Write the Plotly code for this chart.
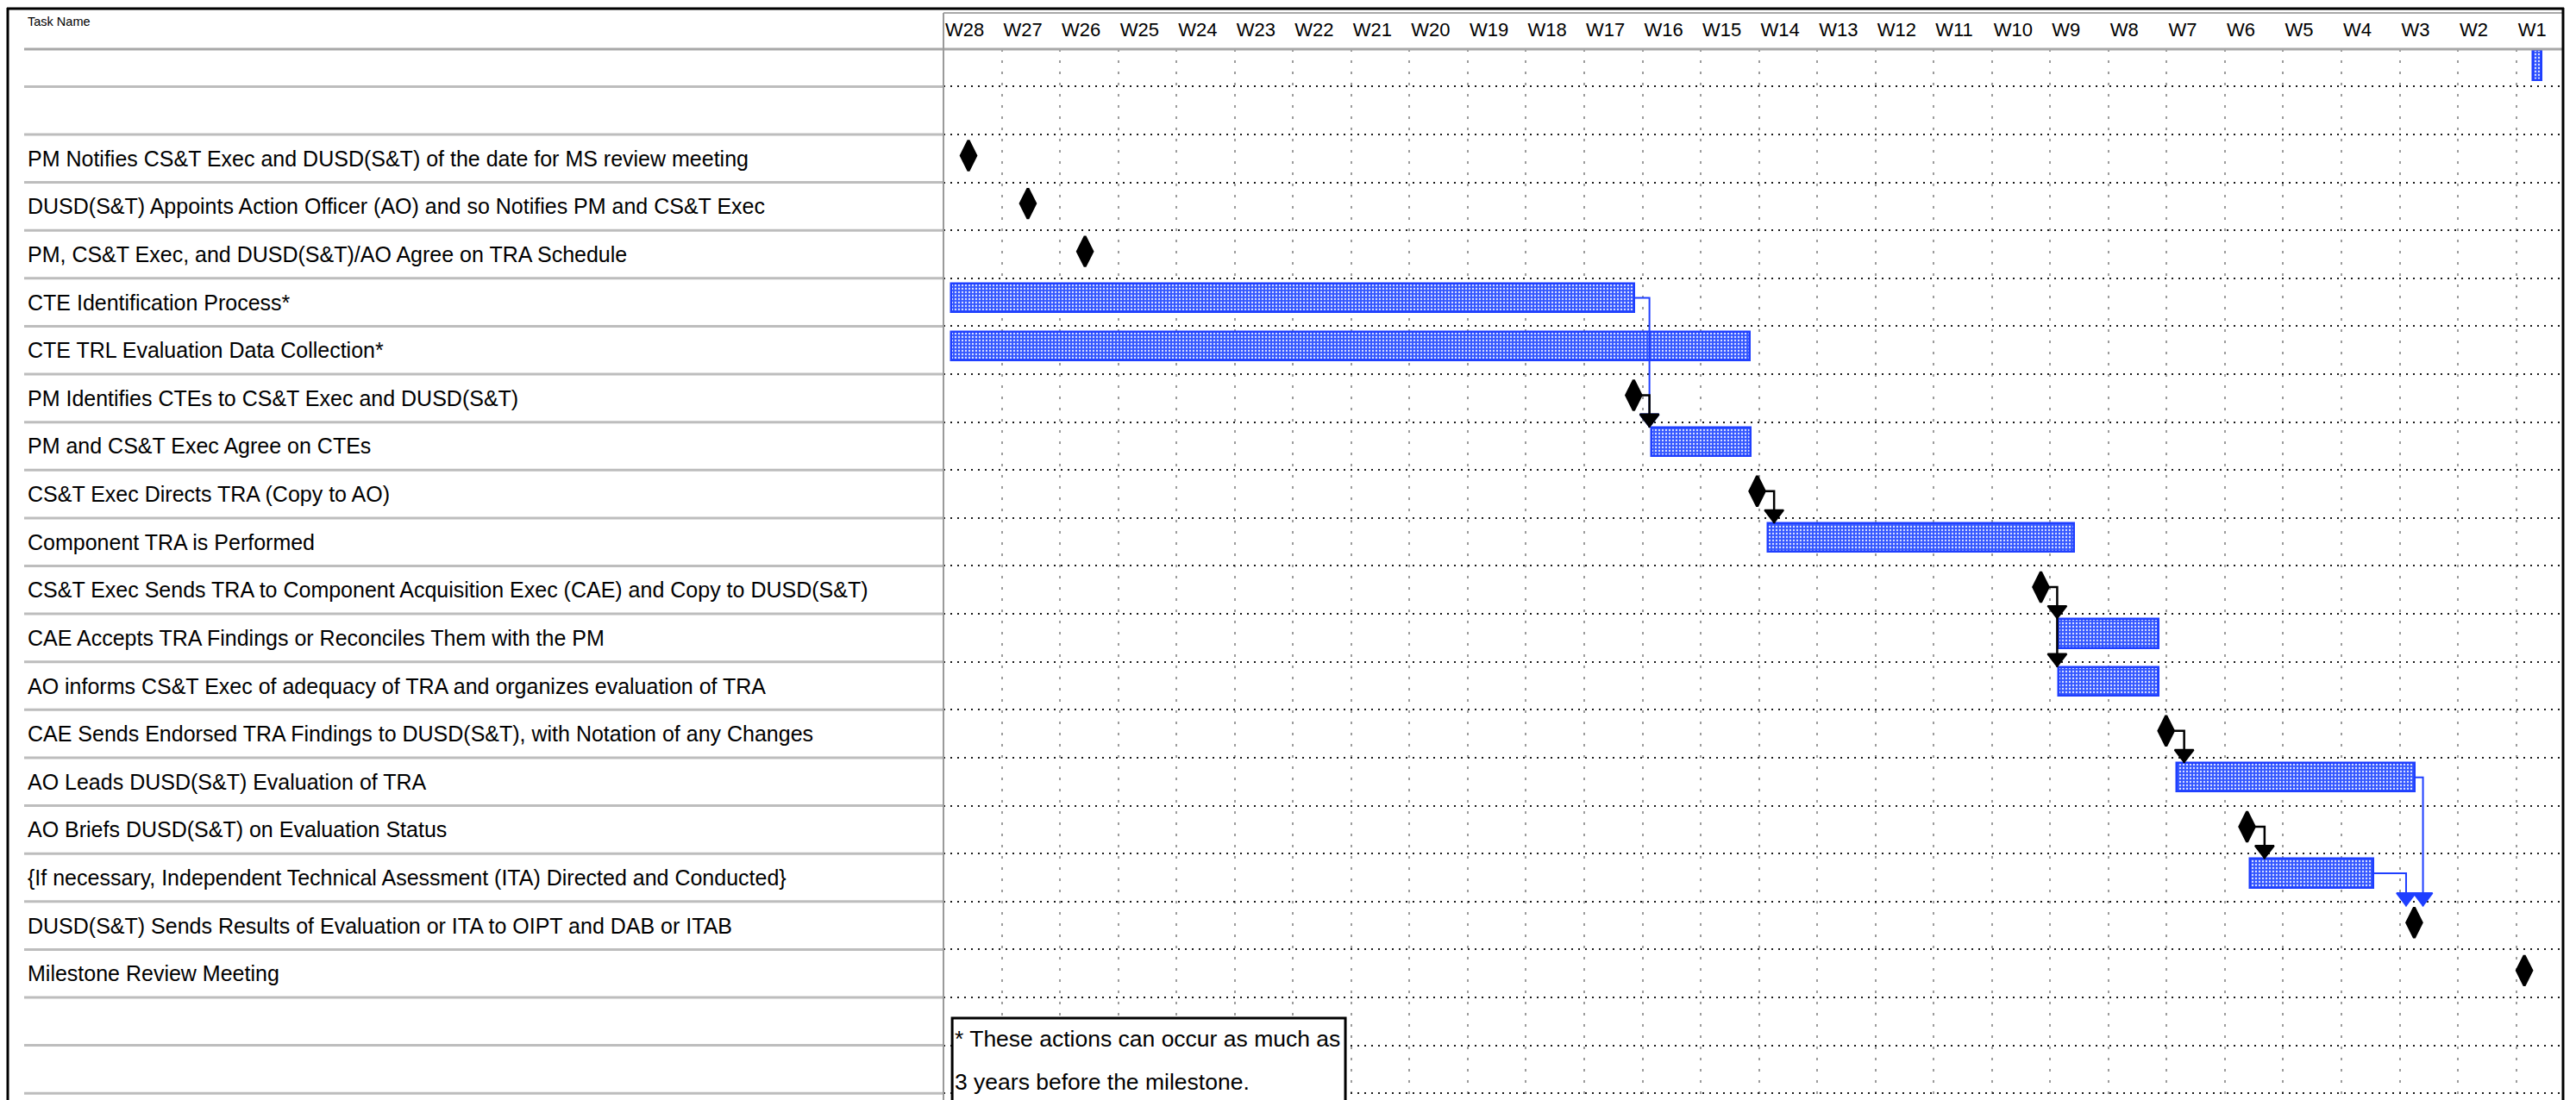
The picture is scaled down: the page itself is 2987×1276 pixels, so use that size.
import subprocess
import plotly.graph_objects as go

# ---------------- data ----------------
week_labels = ["W28", "W27", "W26", "W25", "W24", "W23", "W22", "W21", "W20", "W19",
               "W18", "W17", "W16", "W15", "W14", "W13", "W12", "W11", "W10", "W9",
               "W8", "W7", "W6", "W5", "W4", "W3", "W2", "W1"]
week_pos = list(range(len(week_labels)))          # column start of each week

task_names = [
    "",
    "",
    "PM Notifies CS&T Exec and DUSD(S&T) of the date for MS review meeting",
    "DUSD(S&T) Appoints Action Officer (AO) and so Notifies PM and CS&T Exec",
    "PM, CS&T Exec, and DUSD(S&T)/AO Agree on TRA Schedule",
    "CTE Identification Process*",
    "CTE TRL Evaluation Data Collection*",
    "PM Identifies CTEs to CS&T Exec and DUSD(S&T)",
    "PM and CS&T Exec Agree on CTEs",
    "CS&T Exec Directs TRA (Copy to AO)",
    "Component TRA is Performed",
    "CS&T Exec Sends TRA to Component Acquisition Exec (CAE) and Copy to DUSD(S&T)",
    "CAE Accepts TRA Findings or Reconciles Them with the PM",
    "AO informs CS&T Exec of adequacy of TRA and organizes evaluation of TRA",
    "CAE Sends Endorsed TRA Findings to DUSD(S&T), with Notation of any Changes",
    "AO Leads DUSD(S&T) Evaluation of TRA",
    "AO Briefs DUSD(S&T) on Evaluation Status",
    "{If necessary, Independent Technical Asessment (ITA) Directed and Conducted}",
    "DUSD(S&T) Sends Results of Evaluation or ITA to OIPT and DAB or ITAB",
    "Milestone Review Meeting",
    "",
    "",
]

# task bars (row index, start week, finish week)
bar_rows = [5, 6, 8, 10, 12, 13, 15, 17]
bar_start = [0.14, 0.14, 12.15, 14.16, 19.15, 19.15, 21.17, 22.43]
bar_finish = [11.86, 13.85, 13.86, 19.41, 20.86, 20.86, 25.26, 24.55]

# small bar in the first (unnamed) row
top_bar_rows = [0]
top_bar_start = [27.29]
top_bar_finish = [27.43]

# milestones
ms_rows = [2, 3, 4, 7, 9, 11, 14, 16, 18, 19]
ms_x = [0.43, 1.45, 2.43, 11.85, 13.97, 18.84, 20.99, 22.38, 25.25, 27.14]

# dependency links (source row -> target rows, with the week where the link turns down)
link_from = [5, 7, 9, 11, 14, 15, 16, 17]
link_to = [[8], [8], [10], [12, 13], [15], [18], [17], [18]]
link_turn = [12.12, 12.12, 14.26, 19.12, 21.30, 25.40, 22.68, 25.11]

note_lines = ["* These actions can occur as much as", "3 years before the milestone."]

# ---------------- layout geometry ----------------
W, H = 2987, 1276
PLOT_L, PLOT_R, PLOT_T = 1094, 2971, 57
Y_TOP, Y_BOT = -0.28, 21.64
X_MAX = 27.79
PPU_Y = (H - PLOT_T) / (Y_BOT - Y_TOP)


def pxx(px):
    return (px - PLOT_L) / (PLOT_R - PLOT_L)


def pxy(py):
    return 1 - (py - PLOT_T) / (H - PLOT_T)


def has_font(name):
    try:
        out = subprocess.run(["fc-list", ":", "family"], capture_output=True,
                             text=True, timeout=20).stdout
        return name in out
    except Exception:
        return False


if has_font("Liberation Sans Narrow"):
    FONT = "Liberation Sans Narrow"
    FS_TASK, FS_WEEK, FS_HEAD, FS_NOTE = 30.5, 27, 18, 32
else:
    FONT = "Liberation Sans"
    FS_TASK, FS_WEEK, FS_HEAD, FS_NOTE = 25, 22, 14.5, 26.5

BLUE = "#1f3fff"
BAR_W, BAR_OFF = 0.60, -0.39
BAR_MID = BAR_OFF + BAR_W / 2
MS_MID = -0.06
MS_HALF = 19 / PPU_Y
ARROW_UP = 10.5 / PPU_Y

bar_marker = dict(
    color="#3a5cff",
    line=dict(color=BLUE, width=2.5),
    pattern=dict(shape=".", fgcolor="#dfe5ff", bgcolor="#3558ff", size=4,
                 solidity=0.25, fillmode="replace"),
)

fig = go.Figure()

fig.add_trace(go.Bar(
    y=bar_rows, base=bar_start,
    x=[f - s for s, f in zip(bar_start, bar_finish)],
    orientation="h", width=BAR_W, offset=BAR_OFF,
    marker=bar_marker, hoverinfo="skip", showlegend=False,
))
fig.add_trace(go.Bar(
    y=top_bar_rows, base=top_bar_start,
    x=[f - s for s, f in zip(top_bar_start, top_bar_finish)],
    orientation="h", width=0.63, offset=-0.27,
    marker=bar_marker, hoverinfo="skip", showlegend=False,
))

# links
end_of = {}
for r, f in zip(bar_rows, bar_finish):
    end_of[r] = (f, r + BAR_MID, "task")
for r, x in zip(ms_rows, ms_x):
    end_of[r] = (x, r + MS_MID, "ms")


def target_top(r):
    if r in bar_rows:
        return r + BAR_OFF
    return r + MS_MID - MS_HALF


paths = {"task": ([], []), "ms": ([], [])}
heads = {"task": ([], []), "ms": ([], [])}
for src, tgts, turn in zip(link_from, link_to, link_turn):
    x0, y0, kind = end_of[src]
    last = max(tgts)
    px, py = paths[kind]
    px += [x0, turn, turn, None]
    py += [y0, y0, target_top(last), None]
    hx, hy = heads[kind]
    for t in tgts:
        hx.append(turn)
        hy.append(target_top(t) - ARROW_UP)

fig.add_trace(go.Scatter(x=paths["task"][0], y=paths["task"][1], mode="lines",
                         line=dict(color=BLUE, width=2), hoverinfo="skip", showlegend=False))
fig.add_trace(go.Scatter(x=heads["task"][0], y=heads["task"][1], mode="markers",
                         marker=dict(symbol="triangle-down", size=19, color=BLUE,
                                     line=dict(color=BLUE, width=2)),
                         hoverinfo="skip", showlegend=False))
fig.add_trace(go.Scatter(x=paths["ms"][0], y=paths["ms"][1], mode="lines",
                         line=dict(color="#000000", width=2.5), hoverinfo="skip", showlegend=False))
fig.add_trace(go.Scatter(x=ms_x, y=[r + MS_MID for r in ms_rows], mode="markers",
                         marker=dict(symbol="diamond-tall", size=25, color="#000000",
                                     line=dict(color="#000000", width=3)),
                         hoverinfo="skip", showlegend=False))
fig.add_trace(go.Scatter(x=heads["ms"][0], y=heads["ms"][1], mode="markers",
                         marker=dict(symbol="triangle-down", size=19, color="#000000",
                                     line=dict(color="#000000", width=2)),
                         hoverinfo="skip", showlegend=False))

# ---------------- table / frame ----------------
shapes = []
grey_row = "#bdbdbd"
for r in range(len(task_names)):
    shapes.append(dict(type="line", xref="paper", yref="y", x0=pxx(28), x1=0,
                       y0=r + 0.5, y1=r + 0.5, line=dict(color=grey_row, width=3)))
shapes += [
    dict(type="line", xref="paper", yref="paper", x0=pxx(28), x1=1, y0=1, y1=1,
         line=dict(color="#a8a8a8", width=3)),
    dict(type="line", xref="paper", yref="paper", x0=0, x1=1, y0=pxy(15), y1=pxy(15),
         line=dict(color="#a8a8a8", width=2)),
    dict(type="line", xref="paper", yref="paper", x0=0, x1=0, y0=pxy(15), y1=0,
         line=dict(color="#9a9a9a", width=2)),
    dict(type="line", xref="paper", yref="paper", x0=pxx(8), x1=pxx(2973), y0=pxy(10), y1=pxy(10),
         line=dict(color="#000000", width=3)),
    dict(type="line", xref="paper", yref="paper", x0=pxx(9), x1=pxx(9), y0=pxy(9), y1=0,
         line=dict(color="#000000", width=3)),
    dict(type="line", xref="paper", yref="paper", x0=pxx(2972), x1=pxx(2972), y0=pxy(9), y1=0,
         line=dict(color="#000000", width=3)),
    dict(type="rect", xref="x", yref="y", x0=0.15, x1=6.9, y0=19.93, y1=22.6,
         fillcolor="#ffffff", line=dict(color="#000000", width=3), layer="above"),
]

annotations = []
for r, name in enumerate(task_names):
    if name:
        annotations.append(dict(xref="paper", yref="y", x=pxx(30), y=r, text=name,
                                showarrow=False, xanchor="left", yanchor="middle",
                                font=dict(family=FONT, size=FS_TASK, color="#000000")))
annotations.append(dict(xref="paper", yref="paper", x=pxx(30), y=pxy(25), text="Task Name",
                        showarrow=False, xanchor="left", yanchor="middle",
                        font=dict(family=FONT, size=FS_HEAD, color="#000000")))
for i, line in enumerate(note_lines):
    annotations.append(dict(xref="x", yref="y", x=0.17, y=20.36 + 0.9 * i, text=line,
                            showarrow=False, xanchor="left", yanchor="middle",
                            font=dict(family=FONT, size=FS_NOTE, color="#000000")))

fig.update_layout(
    width=W, height=H,
    margin=dict(l=PLOT_L, r=W - PLOT_R, t=PLOT_T, b=0, pad=0, autoexpand=False),
    paper_bgcolor="#ffffff", plot_bgcolor="#ffffff",
    barmode="overlay", bargap=0,
    shapes=shapes, annotations=annotations,
    xaxis=dict(
        range=[0, X_MAX], side="top", tickmode="array", tickvals=week_pos, ticktext=week_labels,
        ticklabelposition="outside right", ticks="", ticklabelstandoff=10, ticklabelshift=2,
        tickfont=dict(family=FONT, size=FS_WEEK, color="#000000"),
        showgrid=True, gridcolor="#9c9c9c", gridwidth=1.5, griddash="3px,10px",
        zeroline=False, showline=False, fixedrange=True,
    ),
    yaxis=dict(
        range=[Y_BOT, Y_TOP], tickmode="array", tickvals=[r + 0.5 for r in range(len(task_names))],
        showticklabels=False, ticks="",
        showgrid=True, gridcolor="#1a1a1a", gridwidth=2, griddash="2px,6px",
        zeroline=False, showline=False, fixedrange=True,
    ),
)

fig.write_html("out.html", config={"displayModeBar": False})
